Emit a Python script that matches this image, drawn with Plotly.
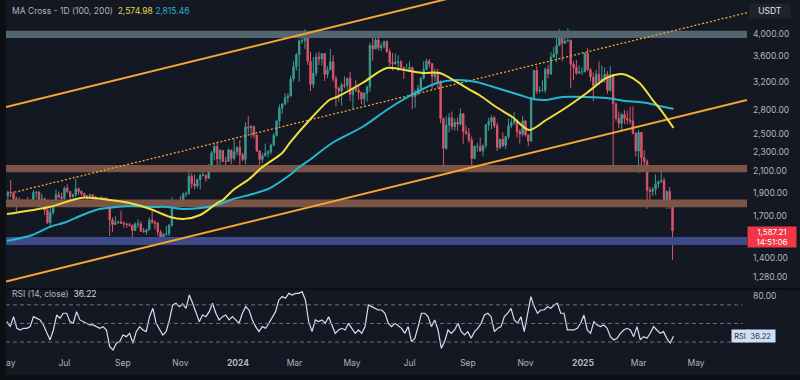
import math
import pandas as pd
import plotly.graph_objects as go

# ---------------- data ----------------
# ETH/USDT, 3-day candles (centre dates), open of each = previous close
candle_start = "2023-05-02"
first_open = 1870
closes = [1905,1895,1845,1800,1820,1800,1800,1800,1830,1900,1905,1810,1845,1750,1650,1730,1790,1880,1860,1850,
          1940,1910,1865,1880,1935,1910,1890,1870,1870,1880,1860,1830,1825,1850,1845,1805,1670,1635,1650,1655,
          1645,1640,1635,1630,1590,1640,1640,1585,1580,1595,1670,1655,1645,1580,1540,1560,1565,1630,1785,1780,
          1810,1800,1890,1890,2050,1980,1960,2020,2060,2060,2030,2160,2290,2360,2225,2315,2200,2200,2320,2230,
          2300,2350,2270,2220,2585,2575,2590,2490,2310,2220,2260,2285,2300,2375,2485,2660,2825,2880,2965,2990,
          3240,3430,3630,3870,3880,4000,3520,3160,3330,3590,3560,3650,3310,3380,3510,3240,3100,3060,3150,3140,
          3250,3010,3100,3070,3040,2950,3030,3120,3790,3730,3890,3750,3780,3860,3680,3500,3480,3510,3510,3420,
          3370,3380,3420,2980,3020,3100,3250,3390,3520,3480,3275,3320,3200,2690,2340,2610,2700,2590,2640,2620,
          2750,2530,2510,2430,2230,2360,2360,2310,2370,2610,2650,2700,2600,2350,2440,2370,2470,2600,2640,2670,
          2530,2500,2660,2490,2420,2960,3370,3060,3070,3070,3390,3320,3590,3640,3790,4010,3830,3870,3880,3470,
          3420,3330,3350,3350,3650,3380,3270,3140,3310,3210,3240,3310,3070,3300,2880,2690,2630,2740,2690,2670,
          2660,2510,2310,2520,2240,2200,1920,1910,1930,1980,2000,2010,1830,1910,1815,1587.21]
highs = [1915,2015,1910,1865,1860,1845,1830,1860,1840,1925,1910,1910,1890,1855,1760,1770,1800,1925,1910,1900,
         1955,1975,1910,1890,2030,1945,1920,1900,1875,1890,1885,1870,1845,1870,1860,1860,1810,1690,1700,1665,
         1745,1660,1650,1650,1635,1650,1675,1660,1610,1605,1690,1750,1665,1655,1595,1570,1625,1640,1860,1815,
         1820,1870,1900,1910,2135,2080,2070,2030,2080,2130,2070,2170,2310,2390,2400,2330,2320,2250,2340,2320,
         2445,2360,2430,2290,2640,2717,2610,2600,2490,2320,2290,2390,2320,2390,2510,2670,2870,2890,3030,3030,
         3290,3520,3660,3900,3990,4090,4010,3680,3590,3660,3680,3660,3650,3440,3730,3620,3290,3125,3180,3280,
         3260,3350,3110,3220,3130,3050,3040,3140,3840,3950,3970,3930,3840,3880,3880,3730,3660,3650,3620,3540,
         3430,3480,3520,3430,3080,3150,3270,3520,3560,3560,3490,3400,3400,3220,2700,2720,2760,2780,2690,2700,
         2820,2760,2600,2570,2470,2370,2400,2460,2380,2620,2700,2730,2720,2640,2440,2520,2480,2690,2690,2770,
         2680,2560,2720,2670,2500,2980,3380,3440,3130,3220,3420,3460,3670,3760,3940,4090,4010,3950,4110,3900,
         3520,3540,3450,3420,3670,3750,3410,3340,3380,3520,3450,3420,3360,3440,3320,2900,2780,2760,2800,2790,
         2840,2850,2520,2550,2520,2320,2220,1950,1950,2070,2010,2100,2040,1920,1950,1830]
lows = [1810,1860,1820,1740,1790,1790,1790,1780,1780,1820,1850,1780,1800,1710,1640,1626,1710,1785,1850,1815,
        1830,1895,1830,1850,1860,1880,1870,1845,1825,1845,1820,1815,1810,1820,1835,1800,1550,1580,1635,1640,
        1640,1610,1610,1620,1530,1585,1610,1580,1575,1560,1590,1640,1600,1550,1520,1530,1550,1550,1620,1760,
        1765,1780,1790,1860,1880,1940,1930,1940,1930,2050,2000,2030,2150,2210,2150,2160,2190,2120,2200,2170,
        2210,2260,2100,2200,2170,2510,2460,2450,2300,2165,2180,2250,2240,2270,2360,2470,2600,2750,2860,2900,
        2980,3200,3370,3200,3820,3730,3460,3060,3100,3280,3460,3450,3210,3250,3370,3200,2850,2910,2860,3100,
        3080,2920,2810,3050,2940,2880,2860,2910,3050,3530,3730,3700,3690,3740,3660,3440,3370,3460,3360,3410,
        3240,3360,3370,2810,2830,3000,3050,3230,3370,3420,3090,3200,3100,2630,2110,2320,2520,2550,2540,2540,
        2600,2390,2490,2400,2150,2220,2300,2300,2250,2340,2540,2560,2570,2310,2330,2350,2330,2440,2570,2610,
        2460,2390,2470,2470,2360,2410,2930,3020,3030,3050,3030,3250,3300,3580,3500,3780,3520,3820,3850,3100,
        3220,3300,3310,3300,3340,3360,3200,2920,3130,3150,3180,3180,3020,3050,2120,2660,2570,2550,2620,2620,
        2620,2500,2250,2080,2100,2140,1760,1820,1870,1880,1940,1990,1790,1760,1760,1385]

# moving averages (MA100 yellow, MA200 cyan)
ma100_dates = ["2023-05-01","2023-06-15","2023-07-20","2023-08-18","2023-09-08","2023-09-30","2023-10-21",
               "2023-11-04","2023-11-22","2023-12-10","2023-12-16","2023-12-27","2024-01-13","2024-01-27",
               "2024-02-17","2024-02-25","2024-03-17","2024-04-07","2024-04-15","2024-05-12","2024-06-07",
               "2024-07-01","2024-07-15","2024-08-02","2024-08-20","2024-09-03","2024-09-13","2024-10-01",
               "2024-10-18","2024-11-05","2024-11-23","2024-12-15","2025-01-05","2025-01-26","2025-02-09",
               "2025-02-16","2025-03-02","2025-03-16","2025-03-27","2025-04-07"]
ma100_values = [1718,1776,1855,1835,1809,1759,1694,1678,1710,1809,1835,1923,2025,2142,2288,2398,2671,2934,
                2976,3178,3410,3362,3331,3331,3193,3076,3004,2839,2709,2549,2671,2839,3032,3254,3315,3300,
                3178,2934,2760,2574.98]
ma200_dates = ["2023-05-01","2023-05-28","2023-06-15","2023-07-03","2023-07-20","2023-08-07","2023-08-25",
               "2023-09-11","2023-09-30","2023-10-18","2023-11-04","2023-11-22","2023-12-10","2023-12-27",
               "2024-01-13","2024-02-04","2024-02-25","2024-03-06","2024-03-17","2024-04-10","2024-05-12",
               "2024-06-10","2024-07-09","2024-07-30","2024-08-20","2024-09-10","2024-10-05","2024-10-26",
               "2024-11-09","2024-11-23","2024-12-10","2025-01-05","2025-01-26","2025-02-16","2025-03-10",
               "2025-03-23","2025-04-07"]
ma200_values = [1514,1557,1616,1655,1710,1759,1776,1784,1776,1776,1759,1767,1792,1843,1879,1941,2063,2142,
                2214,2398,2585,2826,3047,3178,3223,3193,3090,3004,2948,2934,2976,2976,2962,2920,2893,2853,
                2815.46]

# RSI(14), evenly spaced samples from 2023-05-01 to 2025-04-07
rsi_start, rsi_end = "2023-05-01", "2025-04-07"
rsi_values = [52.0,46.6,57.3,44.8,43.0,44.8,44.8,46.6,57.3,55.6,
              53.8,48.4,39.4,32.3,43.0,59.1,55.6,61.0,61.0,52.0,
              50.2,62.7,53.8,52.0,50.2,48.4,48.4,46.6,44.8,46.6,
              43.0,25.1,21.5,28.7,30.5,37.6,35.8,39.4,28.7,41.2,
              46.6,43.0,41.2,57.3,66.3,50.2,43.0,37.6,41.2,53.8,
              69.9,71.7,68.1,71.0,66.3,80.6,71.7,61.0,52.0,59.1,
              57.3,62.7,71.7,61.0,53.8,57.3,59.1,53.8,57.3,53.8,
              50.2,61.0,68.1,64.5,53.8,46.6,41.2,46.6,44.8,50.2,
              57.3,62.7,75.3,78.9,77.1,82.4,80.6,82.4,82.4,84.2,
              75.3,52.0,41.2,53.8,52.0,53.8,50.2,57.3,48.4,39.4,
              43.0,44.8,43.0,50.2,44.8,39.4,43.0,39.4,46.6,69.9,
              68.1,66.3,64.5,64.5,61.0,50.2,46.6,50.2,47.3,
              44.8,39.4,46.6,30.5,34.0,46.6,61.0,61.0,57.3,46.6,
              53.8,43.0,23.3,30.5,43.0,39.4,43.0,50.2,41.2,37.6,
              41.2,34.0,41.2,44.8,50.2,59.1,61.0,57.3,41.2,44.8,
              46.6,57.3,61.0,66.3,53.8,50.2,57.3,41.2,61.0,78.9,
              68.1,61.0,64.5,64.5,68.1,66.3,69.9,71.7,61.0,61.0,
              43.0,43.0,43.0,44.8,50.2,59.1,43.0,39.4,52.0,48.4,
              46.6,48.4,44.8,35.8,32.3,34.0,39.4,43.0,44.8,43.0,
              35.8,46.6,32.3,35.8,34.0,39.4,46.6,43.0,39.4,41.2,
              34.0,28.7,36.22]
rsi_levels = [70, 50, 30]

# trend channel (upper, lower, dotted middle)
channel_dates = ["2023-04-30", "2025-06-24"]
channel_upper = [2839, 6657]
channel_lower = [1252, 2936]
channel_mid_dates = ["2023-05-09", "2025-06-24"]
channel_mid = [1903, 4420]

# horizontal zones: (low, high, colour)
zones = [(3925, 4060, "#51666e"),
         (2090, 2162, "#7a5446"),
         (1773, 1840, "#7a5446"),
         (1485, 1542, "#3d4b88")]

price_ticks = [1280, 1400, 1700, 1900, 2100, 2300, 2500, 2800, 3200, 3600, 4000]
month_ticks = ["2023-05-01","2023-07-01","2023-09-01","2023-11-01","2024-01-01","2024-03-01","2024-05-01",
               "2024-07-01","2024-09-01","2024-11-01","2025-01-01","2025-03-01","2025-05-01"]
month_labels = ["May","Jul","Sep","Nov","<b>2024</b>","Mar","May","Jul","Sep","Nov","<b>2025</b>","Mar","May"]
x_range = ["2023-04-30", "2025-06-24"]
price_range = [1214, 4692]
rsi_range = [15, 86]
last_price = 1587.21
countdown = "14:51:06"

# ---------------- styles ----------------
BG = "#141823"
FRAME = "#0d0f15"
TXT = "#b2b5be"
UP, DOWN = "#3a9a90", "#d9566b"
ORANGE = "#f7a531"
YELLOW, CYAN = "#f1e03c", "#22b8d0"
RSI_COL = "#d2e0f2"
FONT = "Inter, Roboto, sans-serif"

W, H = 800, 380
ML, MR, MT, MB = 6, 53, 0, 24
PW, PH = W - ML - MR, H - MT - MB


def px_x(px):
    return (px - ML) / PW


def px_y(py):
    return (H - MB - py) / PH


candle_dates = pd.date_range(candle_start, periods=len(closes), freq="3D")
opens = [first_open] + closes[:-1]
rsi_dates = pd.date_range(rsi_start, rsi_end, periods=len(rsi_values))

fig = go.Figure()

# zones
for lo, hi, col in zones:
    fig.add_trace(go.Scatter(x=[x_range[0], x_range[1], x_range[1], x_range[0], x_range[0]],
                             y=[lo, lo, hi, hi, lo], mode="lines", fill="toself",
                             fillcolor=col, line=dict(width=0), hoverinfo="skip",
                             xaxis="x", yaxis="y"))

fig.add_trace(go.Candlestick(x=candle_dates, open=opens, high=highs, low=lows, close=closes,
                             increasing=dict(line=dict(color=UP, width=1), fillcolor=UP),
                             decreasing=dict(line=dict(color=DOWN, width=1), fillcolor=DOWN),
                             whiskerwidth=0, xaxis="x", yaxis="y", hoverinfo="skip"))

fig.add_trace(go.Scatter(x=channel_dates, y=channel_upper, mode="lines",
                         line=dict(color=ORANGE, width=2), xaxis="x", yaxis="y"))
fig.add_trace(go.Scatter(x=channel_dates, y=channel_lower, mode="lines",
                         line=dict(color=ORANGE, width=2), xaxis="x", yaxis="y"))
fig.add_trace(go.Scatter(x=channel_mid_dates, y=channel_mid, mode="lines",
                         line=dict(color=ORANGE, width=1.3, dash="2px,2px"), xaxis="x", yaxis="y"))

fig.add_trace(go.Scatter(x=ma200_dates, y=ma200_values, mode="lines",
                         line=dict(color=CYAN, width=2, shape="spline", smoothing=0.8),
                         xaxis="x", yaxis="y"))
fig.add_trace(go.Scatter(x=ma100_dates, y=ma100_values, mode="lines",
                         line=dict(color=YELLOW, width=2, shape="spline", smoothing=0.8),
                         xaxis="x", yaxis="y"))

fig.add_trace(go.Scatter(x=rsi_dates, y=rsi_values, mode="lines",
                         line=dict(color=RSI_COL, width=1.2), xaxis="x2", yaxis="y2"))

shapes = []
for lv in rsi_levels:
    shapes.append(dict(type="line", xref="paper", yref="y2", x0=0, x1=0.994, y0=lv, y1=lv,
                       line=dict(color="#6b6f7a", width=1, dash="4px,3px")))
# frame & pane separator
shapes.append(dict(type="rect", xref="paper", yref="paper", x0=px_x(0), x1=px_x(ML),
                   y0=px_y(H), y1=px_y(0), fillcolor=FRAME, line=dict(width=0), layer="above"))
shapes.append(dict(type="rect", xref="paper", yref="paper", x0=px_x(0), x1=px_x(W),
                   y0=px_y(H), y1=px_y(375), fillcolor=FRAME, line=dict(width=0), layer="above"))
shapes.append(dict(type="rect", xref="paper", yref="paper", x0=px_x(ML), x1=px_x(W),
                   y0=px_y(290), y1=px_y(288), fillcolor=FRAME, line=dict(width=0), layer="above"))

annotations = [
    dict(xref="paper", yref="paper", x=px_x(10), y=px_y(11), xanchor="left", yanchor="middle",
         showarrow=False, font=dict(family=FONT, size=8.5, color=TXT),
         text=(f'MA Cross - 1D (100, 200)  <span style="color:#e3d447">{ma100_values[-1]:,.2f}</span>'
               f' <span style="color:#2bb3c7">{ma200_values[-1]:,.2f}</span>')),
    dict(xref="paper", yref="paper", x=px_x(10), y=px_y(294), xanchor="left", yanchor="middle",
         showarrow=False, font=dict(family=FONT, size=8.5, color=TXT),
         text=f'RSI (14, close)  <span style="color:#d1d4dc">{rsi_values[-1]:.2f}</span>'),
    dict(xref="paper", yref="paper", x=px_x(770), y=px_y(11), xanchor="center", yanchor="middle",
         showarrow=False, width=38, height=12, bgcolor="#1e222d",
         font=dict(family=FONT, size=8.5, color="#e0e3eb"), text="USDT"),
    dict(xref="paper", yref="paper", x=px_x(772), y=px_y(236.5), xanchor="center", yanchor="middle",
         showarrow=False, width=46, height=18, bgcolor="#f23645",
         font=dict(family=FONT, size=8, color="#ffffff"),
         text=f"{last_price:,.2f}<br>{countdown}"),
    dict(xref="paper", yref="paper", x=px_x(739.5), y=px_y(336), xanchor="center", yanchor="middle",
         showarrow=False, width=14, height=10, bgcolor="#cfe0f5",
         font=dict(family=FONT, size=7.5, color="#1c2f52"), text="RSI"),
    dict(xref="paper", yref="paper", x=px_x(761.5), y=px_y(336), xanchor="center", yanchor="middle",
         showarrow=False, width=26, height=10, bgcolor="#cfe0f5",
         font=dict(family=FONT, size=7.5, color="#1c2f52"), text=f"{rsi_values[-1]:.2f}"),
]

axis_font = dict(family=FONT, size=8.5, color=TXT)
main_top = 1.0
main_bot = px_y(288)
rsi_top = px_y(290)

fig.update_layout(
    width=W, height=H, margin=dict(l=ML, r=MR, t=MT, b=MB, autoexpand=False),
    paper_bgcolor=BG, plot_bgcolor=BG, showlegend=False, hovermode=False,
    font=dict(family=FONT, color=TXT),
    xaxis=dict(domain=[0, 1], anchor="y", type="date", range=x_range, showticklabels=False,
               showgrid=False, zeroline=False, showline=False, ticks="", automargin=False,
               rangeslider=dict(visible=False)),
    yaxis=dict(domain=[main_bot, main_top], anchor="x", type="log",
               range=[math.log10(price_range[0]), math.log10(price_range[1])],
               side="right", tickvals=price_ticks, ticktext=[f"{v:,.2f}" for v in price_ticks],
               tickfont=axis_font, showgrid=False, zeroline=False, showline=False, ticks="",
               ticklabelstandoff=5, automargin=False),
    xaxis2=dict(domain=[0, 1], anchor="y2", type="date", range=x_range, matches="x",
                tickvals=month_ticks, ticktext=month_labels, tickfont=axis_font, automargin=False,
                ticklabeloverflow="allow",
                showgrid=False, zeroline=False, showline=False, ticks=""),
    yaxis2=dict(domain=[0, rsi_top], anchor="x2", range=rsi_range, side="right",
                tickvals=[80], ticktext=["80.00"], tickfont=axis_font, automargin=False,
                showgrid=False, zeroline=False, showline=False, ticks="", ticklabelstandoff=5),
    shapes=shapes, annotations=annotations,
)

fig.write_html("out.html", config={"displayModeBar": False, "staticPlot": True},
               post_script="document.body.style.margin='0';document.body.style.overflow='hidden';")
